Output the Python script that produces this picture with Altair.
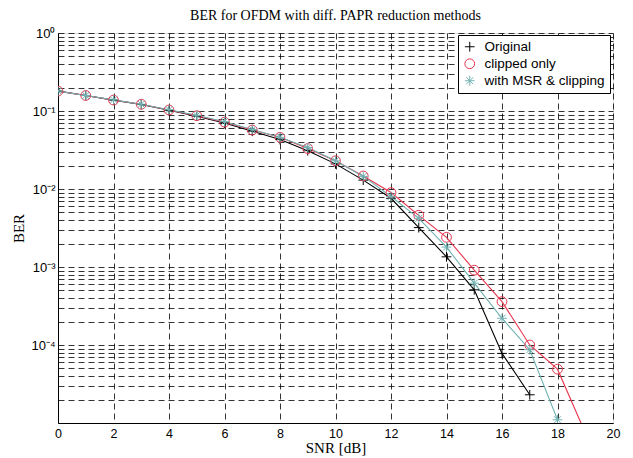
import altair as alt
import pandas as pd

# ---- data ----
snr_orig = list(range(0, 18))
ber_orig = [0.18, 0.158, 0.138, 0.121, 0.102, 0.086, 0.070, 0.055, 0.043, 0.031,
            0.021, 0.0130, 0.0076, 0.0032, 0.00135, 0.00051, 7.8e-5, 2.3e-5]

snr_clip = list(range(0, 20))
ber_clip = [0.18, 0.158, 0.138, 0.122, 0.103, 0.087, 0.072, 0.057, 0.046, 0.033,
            0.023, 0.0147, 0.0090, 0.0046, 0.0024, 0.00091, 0.00036, 1.0e-4, 4.9e-5, 7.5e-6]

snr_msr = list(range(0, 19))
ber_msr = [0.18, 0.158, 0.139, 0.122, 0.104, 0.088, 0.073, 0.058, 0.046, 0.034,
           0.023, 0.0145, 0.0080, 0.0042, 0.0018, 0.00062, 0.00022, 8.7e-5, 1.1e-5]

series_names = ["Original", "clipped only", "with MSR & clipping"]
series_colors = ["#000000", "#e8344e", "#72b2b2"]
PLUS = "M-1,0L1,0M0,-1L0,1"
STAR = "M-1,0L1,0M0,-1L0,1M-0.72,-0.72L0.72,0.72M-0.72,0.72L0.72,-0.72"
series_shapes = [PLUS, "circle", STAR]

x_ticks = list(range(0, 21, 2))
y_grid = [m * 10.0 ** e for e in range(-5, 0) for m in range(1, 10)] + [1.0]

rows = []
for name, xs, ys in zip(series_names, [snr_orig, snr_clip, snr_msr], [ber_orig, ber_clip, ber_msr]):
    for x, y in zip(xs, ys):
        rows.append({"SNR": x, "BER": y, "series": name})
df = pd.DataFrame(rows)

E = "round(log(datum.value)/LN10)"
label_expr = (
    f"abs(log(datum.value)/LN10 - {E}) > 0.001 ? '' : "
    f"{E} == 0 ? '10⁰' : {E} == -1 ? '10⁻¹' : {E} == -2 ? '10⁻²' : "
    f"{E} == -3 ? '10⁻³' : {E} == -4 ? '10⁻⁴' : ''"
)

SANS = "Liberation Sans"
SERIF = "Liberation Serif"

x_enc = alt.X(
    "SNR:Q",
    scale=alt.Scale(domain=[0, 20], nice=False),
    axis=alt.Axis(
        title="SNR [dB]", values=x_ticks, grid=True, gridDash=[6, 4], gridColor="#000",
        gridWidth=0.8, ticks=False, domainColor="#000", labelFont=SANS, labelFontSize=12.5,
        labelColor="#000", labelPadding=4, titleFont=SERIF, titleFontSize=15,
        titleFontWeight="normal", titleColor="#000", titlePadding=1, labelFlush=False,
    ),
)
y_enc = alt.Y(
    "BER:Q",
    scale=alt.Scale(type="log", domain=[1e-5, 1], nice=False),
    axis=alt.Axis(
        title="BER", values=y_grid, labelExpr=label_expr, grid=True, gridDash=[6, 4],
        gridColor="#000", gridWidth=0.8, ticks=False, domainColor="#000", labelFont=SANS,
        labelFontSize=13, labelColor="#000", labelPadding=3, titleFont=SERIF,
        titleFontSize=15, titleFontWeight="normal", titleColor="#000", titlePadding=4,
    ),
)

color_scale = alt.Scale(domain=series_names, range=series_colors)
shape_scale = alt.Scale(domain=series_names, range=series_shapes)

legend_def = dict(
    title=None, orient="none", legendX=400, legendY=2, fillColor="white",
    strokeColor="#000", padding=5, labelFont=SANS, labelFontSize=13.5,
    labelColor="#000", symbolSize=95, symbolStrokeWidth=1, labelOffset=8,
    rowPadding=2,
)

lines = alt.Chart(df).mark_line(strokeWidth=1.1, clip=True).encode(
    x=x_enc, y=y_enc,
    color=alt.Color("series:N", scale=color_scale, legend=None),
)

points = alt.Chart(df).mark_point(filled=False, size=95, strokeWidth=1, clip=True, opacity=1).encode(
    x=x_enc, y=y_enc,
    color=alt.Color("series:N", scale=color_scale, legend=alt.Legend(**legend_def)),
    shape=alt.Shape("series:N", scale=shape_scale, legend=alt.Legend(**legend_def)),
)

chart = alt.layer(lines, points).resolve_legend(
    color="independent", shape="independent"
).properties(
    width=555,
    height=390,
    padding={"left": 50, "top": 25, "right": 12, "bottom": 35},
    autosize=alt.AutoSizeParams(type="none"),
    title=alt.TitleParams(
        "BER for OFDM with diff. PAPR reduction methods", font=SERIF, fontSize=14,
        fontWeight="normal", color="#000", anchor="middle", offset=4,
    ),
).configure_view(stroke="#000", strokeWidth=1).configure(background="white")

chart.save("out.html", embed_options={"renderer": "svg", "actions": False})
